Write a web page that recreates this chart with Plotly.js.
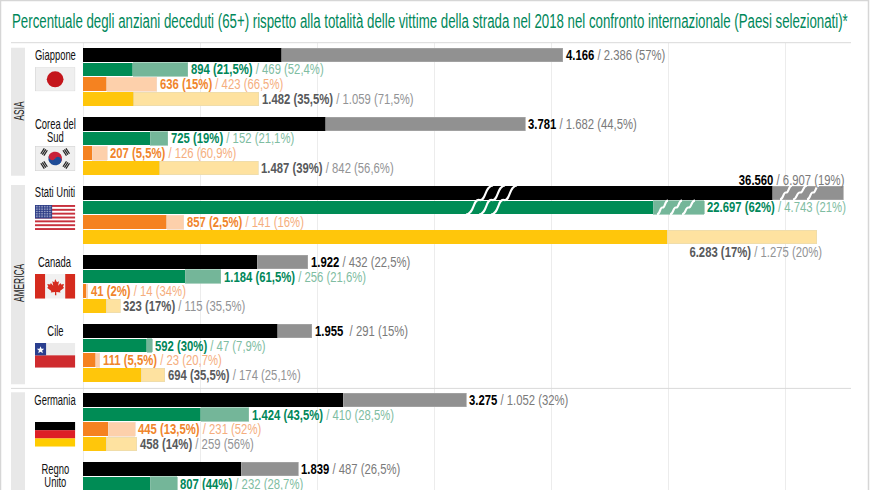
<!DOCTYPE html>
<html><head><meta charset="utf-8">
<script src="https://cdn.plot.ly/plotly-3.0.1.min.js"></script>
<style>html,body{margin:0;padding:0;background:#fff}#c{width:870px;height:490px}</style></head>
<body><div id="c"></div>
<script>
const countries = ["Giappone","Corea del<br>Sud","Stati Uniti","Canada","Cile","Germania","Regno<br>Unito"];
const regions = ["ASIA","AMERICA"];

// values as drawn on the (partly broken) scale: under-65 part, over-65 part
const totalRest = [1697,2074,5895,1490,1664,2223,1352];
const totalOld  = [2405,1707, 603, 432, 291,1052, 487];
const walkRest  = [ 425, 573,4874, 874, 545,1005, 575];
const walkOld   = [ 469, 152, 436, 303,  47, 411, 232];
const cycleRest = [ 203,  81, 716,  27, 111, 214, null];
const cycleOld  = [ 428, 126, 145,  14,  32, 231, null];
const carRest   = [ 434, 657,4994, 197, 497, 199, null];
const carOld    = [1068, 840,1277, 120, 200, 259, null];

const totalBold = ["4.166","3.781","36.560","1.922","1.955","3.275","1.839"];
const totalNote = ["/ 2.386 (57%)","/ 1.682 (44,5%)","/ 6.907 (19%)","/ 432 (22,5%)","&nbsp;/ 291 (15%)","/ 1.052 (32%)","/ 487 (26,5%)"];
const walkBold  = ["894 (21,5%)","725 (19%)","22.697 (62%)","1.184 (61,5%)","592 (30%)","1.424 (43,5%)","807 (44%)"];
const walkNote  = ["/ 469 (52,4%)","/ 152 (21,1%)","/ 4.743 (21%)","/ 256 (21,6%)","/ 47 (7,9%)","/ 410 (28,5%)","/ 232 (28,7%)"];
const cycleBold = ["636 (15%)","207 (5,5%)","857 (2,5%)","41 (2%)","111 (5,5%)","445 (13,5%)",null];
const cycleNote = ["/ 423 (66,5%)","/ 126 (60,9%)","/ 141 (16%)","/ 14 (34%)","/ 23 (20,7%)","/ 231 (52%)",null];
const carBold   = ["1.482 (35,5%)","1.487 (39%)","6.283 (17%)","323 (17%)","694 (35,5%)","458 (14%)",null];
const carNote   = ["/ 1.059 (71,5%)","/ 842 (56,6%)","/ 1.275 (20%)","/ 115 (35,5%)","/ 174 (25,1%)","/ 259 (56%)",null];

const titleText = "Percentuale degli anziani deceduti (65+) rispetto alla totalità delle vittime della strada nel 2018 nel confronto internazionale (Paesi selezionati)*";

// layout constants
const W=870,H=490, FONT='"Liberation Sans",sans-serif';
const firstRow=54.8, groupStep=69, rowStep=14.7, barH=13.6, nameLeading=12.4;
const rowY=(g,r)=>firstRow+g*groupStep+r*rowStep;
const px=x=>x/W, py=y=>1-y/H;

const rowsDef=[
 {rest:totalRest,old:totalOld,bold:totalBold,note:totalNote,c1:"#000000",c2:"#919191",e2:"#a8a8a8",t1:"#000000",t2:"#7a7a7a",n:"Totale"},
 {rest:walkRest,old:walkOld,bold:walkBold,note:walkNote,c1:"#008c55",c2:"#74b699",e2:"#8cc2aa",t1:"#00875a",t2:"#80bda2",n:"Pedoni"},
 {rest:cycleRest,old:cycleOld,bold:cycleBold,note:cycleNote,c1:"#f58220",c2:"#fdd0ab",e2:"#f3d8c4",t1:"#f0852c",t2:"#f5ae7e",n:"Ciclisti"},
 {rest:carRest,old:carOld,bold:carBold,note:carNote,c1:"#ffc60b",c2:"#fee2a0",e2:"#e9dcae",t1:"#58595b",t2:"#929395",n:"Occupanti"}
];

const traces=[], annotations=[], squeeze=[];
const addAnn=(a,k,side)=>{annotations.push(Object.assign({showarrow:false,borderpad:0,borderwidth:0},a));squeeze.push({k,side});};
rowsDef.forEach((s,r)=>{
  const ys=countries.map((_,g)=>rowY(g,r));
  traces.push({type:"bar",orientation:"h",name:s.n,x:s.rest,y:ys,width:barH,marker:{color:s.c1,line:{width:0}},hoverinfo:"skip"});
  traces.push({type:"bar",orientation:"h",name:s.n+" 65+",x:s.old,y:ys,width:barH,marker:{color:s.c2,line:{width:0.7,color:s.e2}},hoverinfo:"skip"});
  countries.forEach((_,g)=>{
    if(s.bold[g]==null) return;
    const end=s.rest[g]+s.old[g];
    const a={xref:"x",yref:"y",x:end,y:rowY(g,r),xanchor:"left",yanchor:"middle",xshift:3,
      text:`<b>${s.bold[g]}</b> <span style="color:${s.t2}">${s.note[g]}</span>`,
      font:{family:FONT,size:14.5,color:s.t1}};
    let side="l";
    if(g===2&&r===0){a.xanchor="right";a.xshift=1;a.yshift=12.5;side="r";}
    if(g===2&&r===3){a.xanchor="right";a.xshift=5;a.yshift=-15;side="r";}
    addAnn(a,0.78,side);
  });
});

// country names
const nameY=[55,130.2,192,262,331,400,475.2];
countries.forEach((c,i)=>addAnn({xref:"paper",yref:"paper",x:px(55),y:py(nameY[i]),xanchor:"center",yanchor:"middle",align:"center",text:c,font:{family:FONT,size:14.5,color:"#111"}},0.65,"c"));

// region labels
const regionBands=[[47.7,175.7],[185,384.3],[392.3,491]];
regions.forEach((t,i)=>addAnn({xref:"paper",yref:"paper",x:px(18.5),y:py(i===0?110.5:283.5),xanchor:"center",yanchor:"middle",textangle:-90,text:t,font:{family:FONT,size:14,color:"#222"}},0.6,"c"));

const shapes=[];
const rect=(x0,y0,x1,y1,fill)=>({type:"rect",xref:"paper",yref:"paper",x0:px(x0),x1:px(x1),y0:py(y0),y1:py(y1),fillcolor:fill,line:{width:0},layer:"below"});
const hline=(y)=>({type:"line",xref:"paper",yref:"paper",x0:px(11),x1:px(851),y0:py(y),y1:py(y),line:{color:"#d9d9d9",width:1},layer:"above"});
regionBands.forEach(b=>shapes.push(rect(11,b[0],25,b[1],"#e8e8e8")));
shapes.push(hline(42.7),hline(388.4));
shapes.push({type:"rect",xref:"paper",yref:"paper",x0:px(.5),x1:px(868.5),y0:py(.5),y1:py(495),fillcolor:"rgba(0,0,0,0)",line:{color:"#d6d6d6",width:1.5},layer:"above"});

// white break marks on the broken bars: [x bottom, y bottom, x top, y top]
const breaks=[[466,214.5,493,185.5],[479,214.5,505,185.5],[491,214.5,517,185.5],
 [780,199.5,792,185.5],[793,199.5,807,185.5],[807,199.5,819,185.5],
 [657,214.5,668,200.5],[670,214.5,682,200.5],[682,214.5,695,200.5]];
breaks.forEach(b=>{
  const [x0,y0,x1,y1]=b,w=x1-x0,h=y1-y0;
  const p=(x,y)=>`${px(x).toFixed(5)},${py(y).toFixed(5)}`;
  const path=`M${p(x0,y0)} C${p(x0+w*.32,y0+h*.02)} ${p(x0+w*.25,y0+h*.55)} ${p(x0+w*.5,y0+h*.5)} C${p(x0+w*.75,y0+h*.45)} ${p(x0+w*.68,y0+h*.98)} ${p(x1,y1)}`;
  shapes.push({type:"path",xref:"paper",yref:"paper",path,line:{color:"#ffffff",width:2.1},layer:"above"});
});

// flags
const svg=s=>"data:image/svg+xml;charset=utf-8,"+encodeURIComponent(s);
const wrap=(b,w=40,h=25)=>`<svg xmlns="http://www.w3.org/2000/svg" width="${w*4}" height="${h*4}" viewBox="0 0 ${w} ${h}">${b}</svg>`;
const korTri=(x,y,a)=>`<g transform="translate(${x} ${y}) rotate(${a})" fill="#222"><rect x="-3.2" y="-2.4" width="6.4" height="1.2"/><rect x="-3.2" y="-.6" width="6.4" height="1.2"/><rect x="-3.2" y="1.2" width="6.4" height="1.2"/></g>`;
let stripes="";for(let i=0;i<13;i++){if(i%2===0)stripes+=`<rect x="0" y="${i*25/13}" width="40" height="${25/13}" fill="#c8313e"/>`;}
let stars="";for(let r=0;r<7;r++)for(let c=0;c<10;c++)stars+=`<circle cx="${1.3+c*1.6}" cy="${1.2+r*1.75}" r=".45" fill="#fff"/>`;
const leaf='<path fill="#d52b1e" d="M20 5 l1.8 3.4 2-1-.9 4.4 2.4-2.6.6 1.5 2.9-.5-1 3 1.2.6-4.2 3.4.5 1.4-4.2-.5.1 3.3h-1.4l.1-3.3-4.2.5.5-1.4-4.2-3.4 1.2-.6-1-3 2.9.5.6-1.5 2.4 2.6-.9-4.4 2 1z"/>';
const flags=[
 {y0:67.3,y1:91.3,s:wrap('<rect width="40" height="25" fill="#efefef"/><rect x=".25" y=".25" width="39.5" height="24.5" fill="none" stroke="#cfcfcf" stroke-width=".5"/><circle cx="20" cy="12.5" r="8.3" fill="#c4161c"/>')},
 {y0:146,y1:171,s:wrap('<rect width="40" height="25" fill="#efefef"/><rect x=".25" y=".25" width="39.5" height="24.5" fill="none" stroke="#cfcfcf" stroke-width=".5"/><g transform="rotate(33 20 12.5)"><path d="M13.2 12.5a6.8 6.8 0 0 1 13.6 0z" fill="#c8213a"/><path d="M13.2 12.5a6.8 6.8 0 0 0 13.6 0z" fill="#1e4c97"/><circle cx="16.6" cy="12.5" r="3.4" fill="#c8213a"/><circle cx="23.4" cy="12.5" r="3.4" fill="#1e4c97"/></g>'+korTri(9,6,-57)+korTri(31,6,57)+korTri(9,19,57)+korTri(31,19,-57))},
 {y0:205,y1:230,s:wrap('<rect width="40" height="25" fill="#fff"/>'+stripes+'<rect width="17" height="13.5" fill="#2f3f88"/>'+stars)},
 {y0:274,y1:298.7,s:wrap('<rect width="40" height="25" fill="#f1f1f1"/><rect width="10" height="25" fill="#d52b1e"/><rect x="30" width="10" height="25" fill="#d52b1e"/>'+leaf)},
 {y0:343,y1:367.7,s:wrap('<rect width="40" height="25" fill="#ececec"/><rect y="12.5" width="40" height="12.5" fill="#cf2b2e"/><rect width="11" height="12.5" fill="#2a3f8f"/><path fill="#fff" d="M5.5 3.2l1 2.6 2.7.1-2.1 1.7.7 2.7-2.3-1.5-2.3 1.5.7-2.7-2.1-1.7 2.7-.1z"/>')},
 {y0:422,y1:446.7,s:wrap('<rect width="40" height="8.4" fill="#000"/><rect y="8.3" width="40" height="8.4" fill="#dd1f26"/><rect y="16.6" width="40" height="8.4" fill="#ffcc00"/>')}
];
const images=flags.map(f=>({source:svg(f.s),xref:"paper",yref:"paper",x:px(35),y:py(f.y0),sizex:40.3/W,sizey:(f.y1-f.y0)/H,sizing:"stretch",xanchor:"left",yanchor:"top",layer:"above"}));

const layout={
  width:W,height:H,margin:{l:0,r:0,t:0,b:0,pad:0},showlegend:false,barmode:"stack",
  paper_bgcolor:"#fff",plot_bgcolor:"#fff",
  title:{text:titleText,x:12/W,xanchor:"left",xref:"paper",y:1-21/H,yanchor:"middle",yref:"container",font:{family:FONT,size:20,color:"#00875a"}},
  xaxis:{range:[-709.4,6726.5],dtick:1000,tick0:0,showgrid:true,gridcolor:"#ececec",gridwidth:1,zeroline:false,showticklabels:false,ticks:"",showline:false,fixedrange:true},
  yaxis:{domain:[0,1-43/H],range:[490,43],showgrid:false,zeroline:false,showticklabels:false,ticks:"",showline:false,fixedrange:true},
  annotations,shapes,images
};
// no condensed face is installed: narrow the real text elements horizontally
function narrow(el,k,side){
  const b=el.getBBox();
  const ax= side==="r"? b.x+b.width : side==="c"? b.x+b.width/2 : b.x;
  const prev=el.getAttribute("transform")||"";
  el.setAttribute("transform",`${prev} translate(${ax},0) scale(${k},1) translate(${-ax},0)`);
}
// two-line country names use a tighter leading than Plotly's default
function tighten(el,size){
  const lines=el.querySelectorAll("tspan.line");
  if(lines.length<2) return;
  lines[1].setAttribute("dy",nameLeading+"px");
  const shift=(1.3*size-nameLeading)/2;
  const prev=el.getAttribute("transform")||"";
  el.setAttribute("transform",`${prev} translate(0,${shift})`);
}
Plotly.newPlot("c",traces,layout,{displayModeBar:false,staticPlot:true}).then(gd=>{
  const t=gd.querySelector(".gtitle");
  if(t) narrow(t,836/t.getBBox().width,"l");
  gd.querySelectorAll(".annotation").forEach(g=>{
    const i=+g.getAttribute("data-index"), el=g.querySelector("text.annotation-text")||g.querySelector("text");
    if(!el||!squeeze[i]) return;
    tighten(el,annotations[i].font.size);
    narrow(el,squeeze[i].k,squeeze[i].side);
  });
});
</script></body></html>
